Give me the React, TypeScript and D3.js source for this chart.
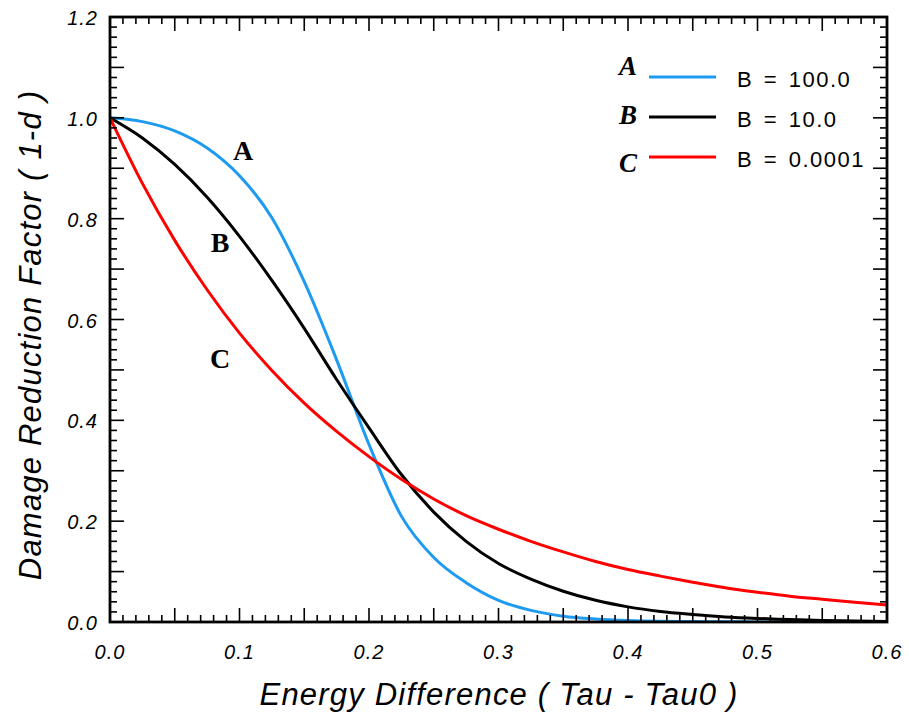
import React from "react";
import * as d3 from "d3";

const xs = [0, 0.025, 0.05, 0.075, 0.1, 0.125, 0.15, 0.175, 0.2, 0.225, 0.25, 0.275, 0.3, 0.325, 0.35, 0.375, 0.4, 0.425, 0.45, 0.475, 0.5, 0.525, 0.55, 0.575, 0.6];
const seriesA = [1.0, 0.9925, 0.974, 0.94, 0.885, 0.802, 0.675, 0.52, 0.352, 0.21, 0.128, 0.078, 0.043, 0.023, 0.0115, 0.006, 0.003, 0.0015, 0.0008, 0.0004, 0.0002, 0.0001, 0, 0, 0];
const seriesB = [1.0, 0.96, 0.9075, 0.8425, 0.765, 0.6775, 0.5825, 0.481, 0.385, 0.2925, 0.218, 0.16, 0.116, 0.085, 0.061, 0.043, 0.03, 0.021, 0.015, 0.01, 0.007, 0.005, 0.003, 0.002, 0.001];
const seriesC = [1.0, 0.87, 0.757, 0.659, 0.573, 0.499, 0.434, 0.378, 0.328, 0.283, 0.244, 0.211, 0.184, 0.16, 0.139, 0.12, 0.104, 0.091, 0.079, 0.068, 0.059, 0.051, 0.045, 0.039, 0.034];

const seriesLetters = ["A", "B", "C"];
const legendLabels = ["B = 100.0", "B = 10.0", "B = 0.0001"];
const seriesColors = ["#1e9bf0", "#000000", "#ff0000"];
const xTickLabels = ["0.0", "0.1", "0.2", "0.3", "0.4", "0.5", "0.6"];
const yTickLabels = ["0.0", "0.2", "0.4", "0.6", "0.8", "1.0", "1.2"];
// curve label anchor points (data coords)
const curveLabelX = [0.1027, 0.085, 0.085];
const curveLabelY = [0.917, 0.734, 0.504];

const L = 110, R = 887, T = 17, B = 622;

export default function App() {
  const x = d3.scaleLinear().domain([0, 0.6]).range([L, R]);
  const y = d3.scaleLinear().domain([0, 1.2]).range([B, T]);
  const line = d3
    .line<number>()
    .x((_, i) => x(xs[i]))
    .y((d) => y(d))
    .curve(d3.curveMonotoneX);
  const all = [seriesA, seriesB, seriesC];

  const xMinor = d3.range(0, 61).map((i) => ({ v: i / 100, major: i % 5 === 0 }));
  const yMinor = d3.range(0, 61).map((i) => ({ v: i * 0.02, major: i % 5 === 0 }));
  const majLen = 14, minLen = 7;
  const font = "'Liberation Sans', Arial, Helvetica, sans-serif";
  const serif = "'Liberation Serif', 'Times New Roman', serif";

  return (
    <svg
      width={909}
      height={719}
      style={{ position: "absolute", left: 0, top: 0, background: "#fff" }}
    >
      <defs>
        <clipPath id="plot">
          <rect x={L} y={T} width={R - L} height={B - T} />
        </clipPath>
      </defs>
      <g clipPath="url(#plot)">
        {all.map((s, k) => (
          <path key={k} d={line(s) || ""} fill="none" stroke={seriesColors[k]} strokeWidth={3} strokeLinejoin="round" />
        ))}
      </g>
      {/* ticks */}
      <g stroke="#000" strokeWidth={1.6}>
        {xMinor.map((t, i) => {
          const len = t.major ? majLen : minLen;
          const px = x(t.v);
          return (
            <g key={"x" + i}>
              <line x1={px} x2={px} y1={B} y2={B - len} />
              <line x1={px} x2={px} y1={T} y2={T + len} />
            </g>
          );
        })}
        {yMinor.map((t, i) => {
          const len = t.major ? majLen : minLen;
          const py = y(t.v);
          return (
            <g key={"y" + i}>
              <line x1={L} x2={L + len} y1={py} y2={py} />
              <line x1={R} x2={R - len} y1={py} y2={py} />
            </g>
          );
        })}
      </g>
      <rect x={L} y={T} width={R - L} height={B - T} fill="none" stroke="#000" strokeWidth={2.8} />
      {/* tick labels */}
      <g fontFamily={font} fontStyle="italic" fontSize={20} fill="#000" letterSpacing={1}>
        {xTickLabels.map((t, i) => (
          <text key={t} x={x(i * 0.1)} y={659} textAnchor="middle">
            {t}
          </text>
        ))}
        {yTickLabels.map((t, i) => (
          <text key={t} x={98} y={y(i * 0.2) + 8} textAnchor="end">
            {t}
          </text>
        ))}
      </g>
      {/* axis titles */}
      <text x={499} y={705} textAnchor="middle" fontFamily={font} fontStyle="italic" fontSize={31} letterSpacing={1.2}>
        Energy Difference ( Tau - Tau0 )
      </text>
      <text
        transform={`translate(41,335) rotate(-90)`}
        textAnchor="middle"
        fontFamily={font}
        fontStyle="italic"
        fontSize={31}
        letterSpacing={1.2}
      >
        Damage Reduction Factor ( 1-d )
      </text>
      {/* curve labels */}
      {seriesLetters.map((s, k) => (
        <text key={"cl" + s} x={x(curveLabelX[k])} y={y(curveLabelY[k])} textAnchor="middle" fontFamily={serif} fontWeight="bold" fontSize={28}>
          {s}
        </text>
      ))}
      {/* legend */}
      {seriesLetters.map((s, k) => (
        <g key={"lg" + s}>
          <text x={628} y={[75, 124, 172][k]} textAnchor="middle" fontFamily={serif} fontWeight="bold" fontStyle="italic" fontSize={27}>
            {s}
          </text>
          <line x1={649} x2={716} y1={77 + 40 * k} y2={77 + 40 * k} stroke={seriesColors[k]} strokeWidth={3} />
          <text x={737} y={87 + 40 * k} fontFamily={font} fontSize={22} letterSpacing={1.5} wordSpacing={3}>
            {legendLabels[k]}
          </text>
        </g>
      ))}
    </svg>
  );
}
